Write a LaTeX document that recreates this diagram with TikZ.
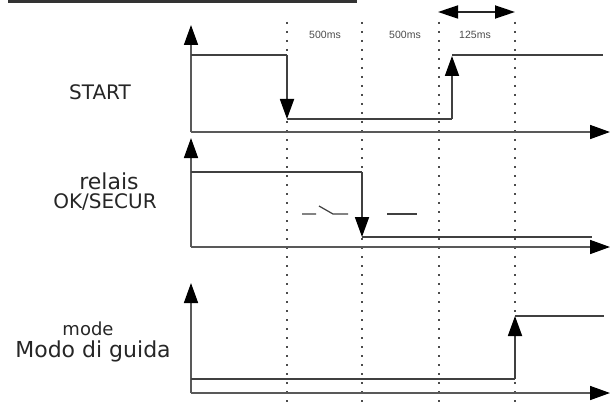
\documentclass[tikz,border=0pt]{standalone}
\usepackage{fontspec}
\setmainfont{DejaVu Sans}
\newfontfamily\msfont{Liberation Sans}
\usetikzlibrary{arrows.meta}

\begin{document}
\begin{tikzpicture}[x=1pt,y=-1pt,
    axis/.style={line width=1.6pt,black!65,-{Triangle[length=20pt,width=14pt,fill=black,color=black]}},
    sig/.style={line width=1.8pt,black!75},
    edge/.style={sig,-{Triangle[length=20pt,width=14pt,fill=black,color=black]}},
    dotline/.style={line width=1.6pt,black!70,dash pattern=on 1.6pt off 7.4pt},
    lbl/.style={anchor=base,inner sep=0pt,text=black!85},
    ms/.style={anchor=base,inner sep=0pt,text=black!70,font=\msfont\fontsize{10.5}{12}\selectfont}]

      \useasboundingbox (0,0) rectangle (615,409);

      % title underline (cut off)
      \draw[line width=3pt,black!80] (8,2) -- (357,2);

      % draw dotted time marks
      \foreach \x in {287,362,439,515}
      \draw[dotline] (\x,22) -- (\x,407);

      % draw axes
      \foreach \y/\t in {132/25,247/138,393/283}
      {
      \draw[axis] (191,\y) -- (191,\t);
      \draw[axis] (191,\y) -- (610,\y);
      }

      % draw nodes
      \node[lbl,font=\fontsize{20}{20}\selectfont] (start) at (100,100) {START};
      \node[lbl,font=\fontsize{22}{22}\selectfont] (relais) at (109,189) {relais};
      \node[lbl,font=\fontsize{20}{20}\selectfont] (secur) at (105,208) {OK/SECUR};
      \node[lbl,font=\fontsize{18}{18}\selectfont] (mode) at (88,335) {mode};
      \node[lbl,font=\fontsize{22}{22}\selectfont] (guida) at (93,357) {Modo di guida};

      \node[ms] (d1) at (325,39) {500ms};
      \node[ms] (d2) at (405,39) {500ms};
      \node[ms] (d3) at (475,39) {125ms};

      % 125ms span
      \coordinate (s1) at (438,12);
      \coordinate (s2) at (515,12);
      \draw[line width=1.8pt,black!85,{Triangle[length=20pt,width=13pt,color=black]}-{Triangle[length=20pt,width=13pt,color=black]}] (s1) -- (s2);

      % START
      \draw[sig] (191,55) -- (287,55);
      \draw[edge] (287,55) -- (287,119);
      \draw[sig] (287,119) -- (452,119);
      \draw[edge] (452,119) -- (452,56);
      \draw[sig] (452,55) -- (603,55);

      % relais OK/SECUR
      \draw[sig] (191,172) -- (362,172);
      \draw[edge] (362,172) -- (362,237);
      \draw[sig] (362,237) -- (592,237);

      % contact
      \draw[line width=1.2pt,black!75] (302,214) -- (316,214) (319,206) -- (333,214) -- (348,214);
      \draw[line width=1.2pt,black!75] (387,214) -- (417,214);

      % Modo di guida
      \draw[sig] (191,379) -- (515,379);
      \draw[edge] (515,379) -- (515,316);
      \draw[sig] (515,316) -- (604,316);

     \end{tikzpicture}
\end{document}
